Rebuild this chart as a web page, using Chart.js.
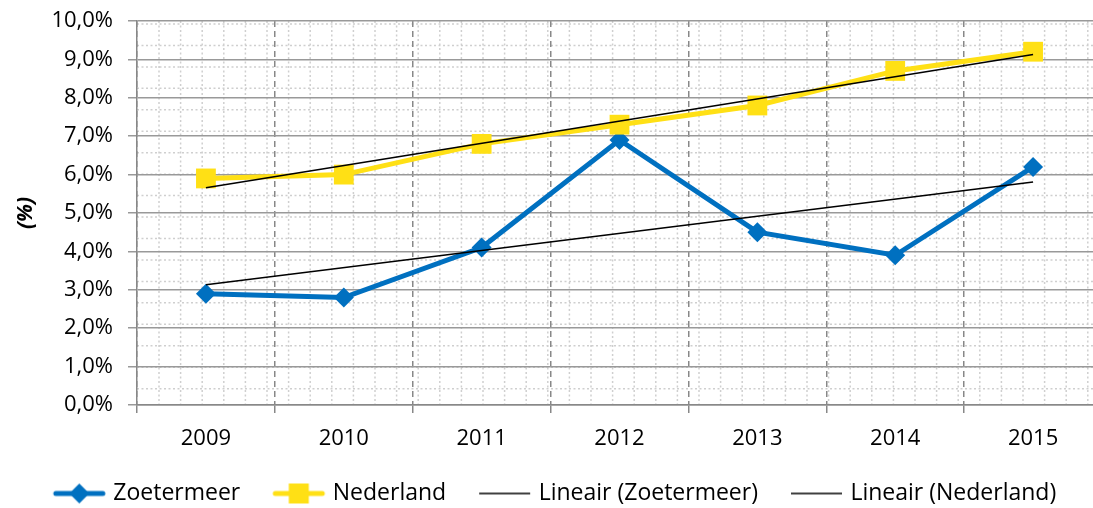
<!DOCTYPE html>
<html>
<head>
<meta charset="utf-8">
<script src="https://cdn.jsdelivr.net/npm/chart.js@4"></script>
<style>
  html, body { margin: 0; padding: 0; background: #fff; overflow: hidden; }
</style>
</head>
<body>
<canvas id="chart" width="1116" height="518"></canvas>
<script>
// data
var years = ["2009", "2010", "2011", "2012", "2013", "2014", "2015"];
var zoetermeer = [2.9, 2.8, 4.1, 6.9, 4.5, 3.9, 6.2];
var nederland = [5.9, 6.0, 6.8, 7.3, 7.8, 8.7, 9.2];
// trend lines: only the end points are read, the line joins them
var trendZoetermeer = [3.13, null, null, null, null, null, 5.81];
var trendNederland = [5.66, null, null, null, null, null, 9.13];
var yTicks = [0, 1, 2, 3, 4, 5, 6, 7, 8, 9, 10];

var blue = "#0070C0";
var yellow = "#FFE015";
var font = "'Open Sans', sans-serif";

// legend symbols: blank gap, then a short line with the marker in the middle
function legendIcon(color, width, marker) {
  var c = document.createElement("canvas");
  c.width = 90; c.height = 24;
  var g = c.getContext("2d");
  var x0 = 37, x1 = 88, xm = (x0 + x1) / 2;
  g.strokeStyle = color;
  g.lineWidth = width;
  g.lineCap = marker ? "round" : "butt";
  g.beginPath();
  g.moveTo(x0 + (marker ? 2 : 0), 12);
  g.lineTo(x1 - (marker ? 2 : 0), 12);
  g.stroke();
  g.fillStyle = color;
  if (marker === "diamond") {
    g.beginPath();
    g.moveTo(xm, 2); g.lineTo(xm + 10, 12); g.lineTo(xm, 22); g.lineTo(xm - 10, 12);
    g.closePath(); g.fill();
  } else if (marker === "square") {
    g.fillRect(xm - 10, 2, 20, 20);
  }
  return c;
}

// dotted background grid, like the Excel pattern
var dottedGrid = {
  id: "dottedGrid",
  afterLayout: function (chart) {
    // the legend icons start with a blank gap, move the row back to the left
    chart.legend.left -= 18;
    chart.legend.right -= 18;
  },
  beforeDraw: function (chart) {
    var a = chart.chartArea, ctx = chart.ctx;
    ctx.save();
    ctx.strokeStyle = "#cfcfcf";
    ctx.lineWidth = 1.5;
    ctx.setLineDash([2, 2.5]);
    ctx.beginPath();
    for (var y = a.top + 3; y < a.bottom; y += 21.45) {
      ctx.moveTo(a.left, y); ctx.lineTo(a.right, y);
    }
    for (var x = a.left + 22; x < a.right; x += 21.6) {
      ctx.moveTo(x, a.top); ctx.lineTo(x, a.bottom);
    }
    ctx.stroke();
    ctx.restore();
  }
};

var ctx = document.getElementById("chart").getContext("2d");
var myChart = new Chart(ctx, {
  type: "line",
  data: {
    labels: years,
    datasets: [{
      label: "Zoetermeer",
      data: zoetermeer,
      borderColor: blue,
      backgroundColor: blue,
      borderWidth: 5,
      pointStyle: "rectRot",
      pointRadius: 10,
      pointBorderWidth: 0,
      legendIcon: legendIcon(blue, 5, "diamond"),
      order: 3
    }, {
      label: "Nederland",
      data: nederland,
      borderColor: yellow,
      backgroundColor: yellow,
      borderWidth: 5,
      pointStyle: "rect",
      pointRadius: 14,
      pointBorderWidth: 0,
      legendIcon: legendIcon(yellow, 5, "square"),
      order: 2
    }, {
      label: "Lineair (Zoetermeer)",
      data: trendZoetermeer,
      borderColor: "#000",
      borderWidth: 1.5,
      pointRadius: 0,
      spanGaps: true,
      legendIcon: legendIcon("#000", 1.5, null),
      order: 1
    }, {
      label: "Lineair (Nederland)",
      data: trendNederland,
      borderColor: "#000",
      borderWidth: 1.5,
      pointRadius: 0,
      spanGaps: true,
      legendIcon: legendIcon("#000", 1.5, null),
      order: 0
    }]
  },
  options: {
    responsive: false,
    animation: false,
    layout: { padding: { top: 21, right: 2, left: 0, bottom: 3 } },
    plugins: {
      tooltip: { enabled: false },
      legend: {
        position: "bottom",
        labels: {
          usePointStyle: true,
          pointStyleWidth: 80,
          padding: 1,
          color: "#000",
          font: { family: font, size: 23 },
          generateLabels: function (chart) {
            return chart.data.datasets.map(function (ds, i) {
              return {
                text: ds.label,
                pointStyle: ds.legendIcon,
                fillStyle: ds.borderColor,
                strokeStyle: ds.borderColor,
                lineWidth: 0,
                hidden: false,
                datasetIndex: i
              };
            });
          }
        }
      }
    },
    scales: {
      x: {
        offset: true,
        afterFit: function (axis) { axis.height = 76; },
        grid: {
          offset: true,
          color: "#888",
          lineWidth: 1.5,
          tickLength: 8,
          tickBorderDash: [],
          drawTicks: true
        },
        border: { color: "#888", width: 1.5, dash: [6, 4] },
        ticks: { color: "#000", font: { family: font, size: 22 }, padding: 13 }
      },
      y: {
        min: 0,
        max: 10,
        afterBuildTicks: function (axis) {
          axis.ticks = yTicks.map(function (v) { return { value: v }; });
        },
        afterFit: function (axis) {
          axis.width = 137;
          axis.paddingTop = 0;
          axis.paddingBottom = 0;
        },
        grid: { color: "#999", lineWidth: 1.5, tickLength: 9 },
        border: { color: "#888", width: 1.5 },
        ticks: {
          color: "#000",
          font: { family: font, size: 22 },
          padding: 15,
          callback: function (v) { return v.toFixed(1).replace(".", ",") + "%"; }
        },
        title: {
          display: true,
          text: "(%)",
          color: "#000",
          font: { family: font, size: 21, weight: "bold", style: "italic" },
          padding: { top: 13, bottom: 10 }
        }
      }
    }
  },
  plugins: [dottedGrid]
});
</script>
</body>
</html>
